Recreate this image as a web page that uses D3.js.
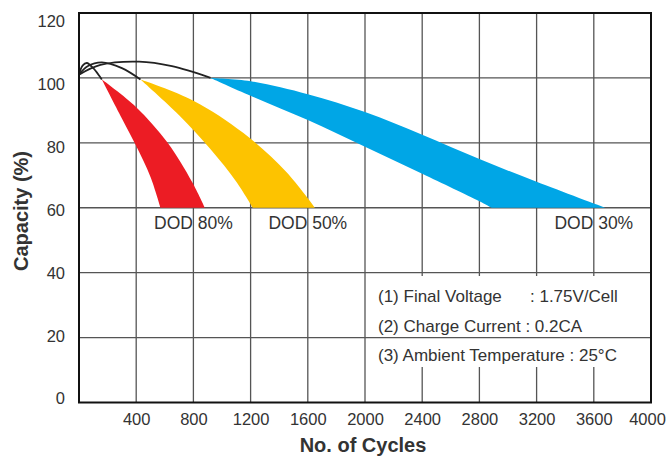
<!DOCTYPE html>
<html>
<head>
<meta charset="utf-8">
<script src="https://cdn.jsdelivr.net/npm/d3@7"></script>
<style>
  html, body { margin: 0; padding: 0; background: #fff; }
  svg { display: block; }
  text { font-family: "Liberation Sans", Arial, Helvetica, sans-serif; fill: #333; }
</style>
</head>
<body>
<svg id="chart" width="670" height="459"></svg>
<script>
// ---- data ----
const xTicks = [400, 800, 1200, 1600, 2000, 2400, 2800, 3200, 3600, 4000];
const yTicks = [0, 20, 40, 60, 80, 100, 120];

// black initial curves (cycles, capacity %)
const curve80 = [[0, 101], [25, 103.8], [55, 104.6], [100, 103], [160, 99.5]];
const curve50 = [[0, 101], [60, 103.6], [160, 104.8], [300, 103], [430, 99.5]];
const curve30 = [[0, 101], [150, 104], [420, 105], [650, 103.6], [920, 100]];

// bands: outer (upper/right) edge and inner (lower/left) edge
const red80Outer = [[160, 99.5], [400, 91], [620, 80], [790, 68], [880, 60]];
const red80Inner = [[160, 99.5], [300, 87.5], [400, 79], [500, 69.5], [570, 60]];
const yel50Outer = [[430, 99.5], [800, 93], [1150, 83], [1450, 71], [1650, 60]];
const yel50Inner = [[430, 99.5], [700, 88.5], [920, 78], [1100, 68], [1215, 60]];
const blu30Outer = [[920, 100], [1200, 99], [1600, 95], [2000, 89.5], [2400, 82.5], [2800, 75], [3200, 68], [3680, 60]];
const blu30Inner = [[920, 100], [1200, 94.5], [1600, 87], [2000, 78.8], [2400, 70.5], [2800, 62], [2885, 60]];

const dodLabels = [
  { text: "DOD 80%", x: 800, y: 55.5 },
  { text: "DOD 50%", x: 1600, y: 55.5 },
  { text: "DOD 30%", x: 3600, y: 55.5 }
];
const notes = [
  ["(1) Final Voltage", ": 1.75V/Cell"],
  ["(2) Charge Current : 0.2CA", ""],
  ["(3) Ambient Temperature : 25°C", ""]
];

// ---- layout ----
const svg = d3.select("#chart");
const x = d3.scaleLinear().domain([0, 4000]).range([79, 651]);
const y = d3.scaleLinear().domain([0, 120]).range([402.5, 13]);
// tick labels in the source sit on a slightly tighter spacing than the grid
const yLab = d3.scaleLinear().domain([0, 120]).range([398, 21]);

const line = d3.line().x(d => x(d[0])).y(d => y(d[1])).curve(d3.curveCatmullRom.alpha(0.5));

// vertical grid
svg.append("g").selectAll("line").data(xTicks.filter(t => t < 4000)).join("line")
  .attr("x1", d => x(d)).attr("x2", d => x(d))
  .attr("y1", y(120)).attr("y2", y(0))
  .attr("stroke", "#555").attr("stroke-width", 1.3);

// white box behind notes (interrupts vertical grid)
svg.append("rect").attr("x", 368).attr("y", 276).attr("width", 282).attr("height", 91).attr("fill", "#fff");

// horizontal grid
svg.append("g").selectAll("line").data(yTicks.filter(t => t > 0 && t < 120)).join("line")
  .attr("x1", x(0)).attr("x2", x(4000))
  .attr("y1", d => y(d)).attr("y2", d => y(d))
  .attr("stroke", "#555").attr("stroke-width", 1.3);

// bands
function band(outer, inner, color) {
  const p1 = line(outer);
  const p2 = line(inner.slice().reverse());
  svg.append("path")
    .attr("d", p1 + "L" + p2.slice(1) + "Z")
    .attr("fill", color).attr("stroke", "none");
}
band(red80Outer, red80Inner, "#ec1c24");
band(yel50Outer, yel50Inner, "#fdc300");
band(blu30Outer, blu30Inner, "#00a6e6");

// black curves
[curve80, curve50, curve30].forEach(c => {
  svg.append("path").attr("d", line(c)).attr("fill", "none")
    .attr("stroke", "#222").attr("stroke-width", 1.8);
});

// frame
svg.append("rect").attr("x", x(0)).attr("y", y(120))
  .attr("width", x(4000) - x(0)).attr("height", y(0) - y(120))
  .attr("fill", "none").attr("stroke", "#111").attr("stroke-width", 2);

// axes using d3 axis (labels only)
const xAxis = d3.axisBottom(x).tickValues(xTicks).tickSize(0).tickPadding(0).tickFormat(d3.format("d"));
const gx = svg.append("g").attr("transform", `translate(0,${y(0)})`).call(xAxis);
gx.select(".domain").remove();
gx.selectAll("text").attr("dy", 0).attr("y", 22).style("font-size", "16.5px").attr("fill", "#333")
  .style("font-family", '"Liberation Sans", Arial, sans-serif');
gx.selectAll(".tick").filter(d => d === 4000).select("text").attr("x", -4);

const yAxis = d3.axisLeft(yLab).tickValues(yTicks).tickSize(0).tickPadding(0).tickFormat(d3.format("d"));
const gy = svg.append("g").attr("transform", `translate(${x(0) - 14},0)`).call(yAxis);
gy.select(".domain").remove();
gy.selectAll("text").attr("dy", "0.36em").style("font-size", "16.5px").attr("fill", "#333")
  .style("font-family", '"Liberation Sans", Arial, sans-serif');

// axis titles
svg.append("text").attr("x", 363).attr("y", 452)
  .attr("text-anchor", "middle").style("font-size", "20px").style("font-weight", "bold")
  .attr("fill", "#222").text("No. of Cycles");
svg.append("text").attr("transform", `translate(28,${y(59)}) rotate(-90)`)
  .attr("text-anchor", "middle").style("font-size", "20px").style("font-weight", "bold")
  .attr("fill", "#222").text("Capacity (%)");

// DOD labels
svg.append("g").selectAll("text").data(dodLabels).join("text")
  .attr("x", d => x(d.x)).attr("y", d => y(d.y)).attr("dy", "0.36em")
  .attr("text-anchor", "middle").style("font-size", "17.5px").attr("fill", "#333")
  .text(d => d.text);

// notes
const noteY = [296, 326, 355];
notes.forEach((n, i) => {
  svg.append("text").attr("x", 378).attr("y", noteY[i]).attr("dy", "0.36em")
    .style("font-size", "17px").attr("fill", "#333").text(n[0]);
  if (n[1]) svg.append("text").attr("x", 530).attr("y", noteY[i]).attr("dy", "0.36em")
    .style("font-size", "17px").attr("fill", "#333").text(n[1]);
});
</script>
</body>
</html>
